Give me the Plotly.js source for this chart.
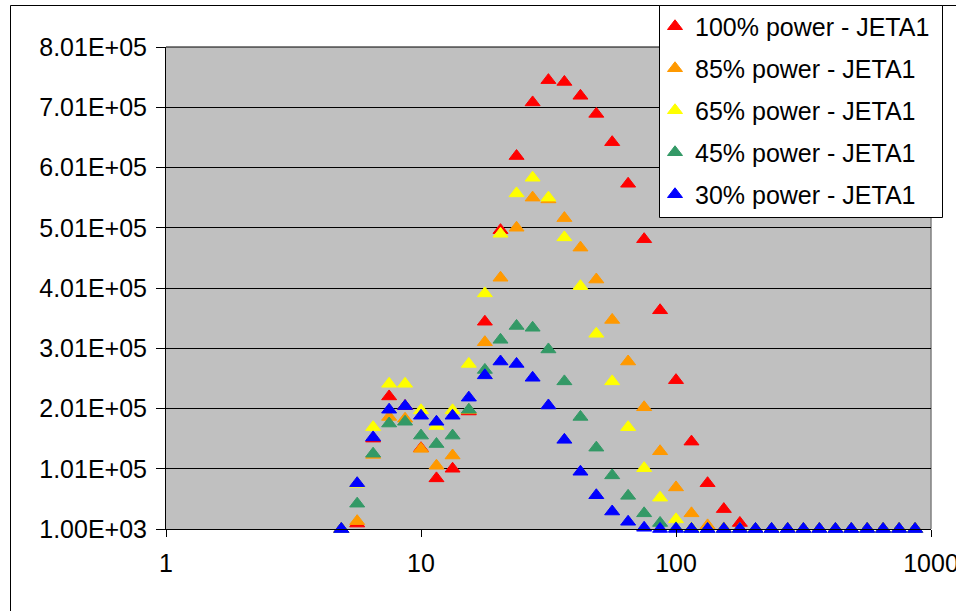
<!DOCTYPE html>
<html>
<head>
<meta charset="utf-8">
<script src="https://cdn.plot.ly/plotly-3.0.1.min.js"></script>
<style>
  html, body { margin: 0; padding: 0; background: #ffffff; }
  #chart { width: 956px; height: 611px; }
</style>
</head>
<body>
<div id="chart"></div>
<script>
// Particle size bins (x values)
const sizes = [4.87, 5.62, 6.49, 7.50, 8.66, 10.0, 11.5, 13.3, 15.4, 17.8, 20.5, 23.7, 27.4, 31.6, 36.5, 42.2, 48.7, 56.2, 64.9, 75.0, 86.6, 100, 115, 133, 154, 178, 205, 237, 274, 316, 365, 422, 487, 562, 649, 750, 866];

const power100 = [1000, 10000, 151000, 221000, 205000, 135000, 85000, 101000, 196000, 345000, 497000, 620000, 709000, 746000, 743000, 720000, 690000, 643000, 574000, 482000, 364000, 248000, 146000, 77000, 34000, 11000, 1000, 1000, 1000, 1000, 1000, 1000, 1000, 1000, 1000, 1000, 1000];
const power85 = [1000, 14000, 124000, 187000, 184000, 134000, 106000, 123000, 198000, 311000, 418000, 501000, 551000, 548000, 517000, 468000, 415000, 348000, 279000, 203000, 130000, 70000, 27000, 7000, 2000, 1000, 1000, 1000, 1000, 1000, 1000, 1000, 1000, 1000, 1000, 1000, 1000];
const power65 = [1000, 76000, 170000, 242000, 242000, 198000, 172000, 198000, 275000, 392000, 491000, 558000, 584000, 551000, 485000, 404000, 325000, 246000, 170000, 102000, 53000, 17000, 2000, 1000, 1000, 1000, 1000, 1000, 1000, 1000, 1000, 1000, 1000, 1000, 1000, 1000, 1000];
const power45 = [1000, 43000, 126000, 176000, 179000, 156000, 142000, 156000, 199000, 265000, 315000, 338000, 335000, 299000, 246000, 187000, 136000, 90000, 56000, 27000, 11000, 2000, 1000, 1000, 1000, 1000, 1000, 1000, 1000, 1000, 1000, 1000, 1000, 1000, 1000, 1000, 1000];
const power30 = [1000, 77000, 153000, 199000, 205000, 189000, 179000, 189000, 219000, 256000, 279000, 275000, 252000, 206000, 149000, 96000, 57000, 30000, 13000, 3000, 1000, 1000, 1000, 1000, 1000, 1000, 1000, 1000, 1000, 1000, 1000, 1000, 1000, 1000, 1000, 1000, 1000];

const seriesNames = ["100% power - JETA1", "85% power - JETA1", "65% power - JETA1", "45% power - JETA1", "30% power - JETA1"];
const seriesColors = ["#FF0000", "#FF9900", "#FFFF00", "#339966", "#0000FF"];
const seriesValues = [power100, power85, power65, power45, power30];

const yTickVals = [1000, 101000, 201000, 301000, 401000, 501000, 601000, 701000, 801000];
const yTickText = ["1.00E+03", "1.01E+05", "2.01E+05", "3.01E+05", "4.01E+05", "5.01E+05", "6.01E+05", "7.01E+05", "8.01E+05"];
const xTickVals = [1, 10, 100, 1000];
const xTickText = ["1", "10", "100", "1000"];

const FONT = "Liberation Sans, Arial, sans-serif";

const traces = seriesValues.map((vals, i) => ({
  type: "scatter",
  mode: "markers",
  x: sizes,
  y: vals,
  name: seriesNames[i],
  legendgroup: "g" + i,
  cliponaxis: false,
  marker: {
    symbol: "triangle-up",
    size: 13,
    color: seriesColors[i],
    line: { width: 1, color: seriesColors[i] }
  },
  hoverinfo: "x+y+name"
}));

// pixel helpers for paper coordinates (plot area: x 166..931, y 47..529)
const px = v => (v - 166) / 765;
const py = v => (529 - v) / 482;

const layout = {
  width: 956,
  height: 611,
  margin: { l: 166, r: 25, t: 47, b: 82, autoexpand: false },
  paper_bgcolor: "#ffffff",
  plot_bgcolor: "#C0C0C0",
  font: { family: FONT, size: 25, color: "#000000" },
  showlegend: true,
  legend: {
    x: px(655),
    y: py(3.5),
    xanchor: "left",
    yanchor: "top",
    bgcolor: "rgba(0,0,0,0)",
    borderwidth: 0,
    font: { family: FONT, size: 25, color: "#000000" },
    traceorder: "grouped",
    tracegroupgap: 6.5
  },
  xaxis: {
    type: "log",
    range: [0, 3],
    tickmode: "array",
    tickvals: xTickVals,
    ticktext: xTickText,
    ticks: "outside",
    ticklen: 7,
    tickcolor: "#000000",
    tickwidth: 1,
    ticklabelstandoff: 5,
    ticklabeloverflow: "allow",
    showgrid: false,
    zeroline: false,
    showline: true,
    linecolor: "#000000",
    linewidth: 1,
    tickfont: { family: FONT, size: 25, color: "#000000" }
  },
  yaxis: {
    range: [1000, 801000],
    tickmode: "array",
    tickvals: yTickVals,
    ticktext: yTickText,
    ticks: "outside",
    ticklen: 9,
    tickcolor: "#000000",
    tickwidth: 1,
    ticklabelstandoff: 4,
    showgrid: true,
    gridcolor: "#000000",
    gridwidth: 1,
    zeroline: false,
    showline: true,
    linecolor: "#000000",
    linewidth: 1,
    tickfont: { family: FONT, size: 25, color: "#000000" }
  },
  shapes: [
    { type: "line", xref: "paper", yref: "paper", x0: 1, x1: 1, y0: 0, y1: 1,
      line: { color: "#808080", width: 1.5 }, layer: "below" },
    { type: "line", xref: "paper", yref: "paper", x0: 0, x1: 1, y0: 1, y1: 1,
      line: { color: "#000000", width: 1 }, layer: "below" },
    { type: "rect", xref: "paper", yref: "paper",
      x0: px(10.5), x1: 1.2, y0: py(5.5), y1: -0.3,
      line: { color: "#000000", width: 1 }, fillcolor: "rgba(0,0,0,0)", layer: "above" },
    { type: "rect", xref: "paper", yref: "paper",
      x0: px(659.5), x1: px(942.5), y0: py(5.5), y1: py(217.5),
      line: { color: "#000000", width: 1 }, fillcolor: "#ffffff", layer: "above" }
  ]
};

Plotly.newPlot("chart", traces, layout, { displayModeBar: false, responsive: false });
</script>
</body>
</html>
